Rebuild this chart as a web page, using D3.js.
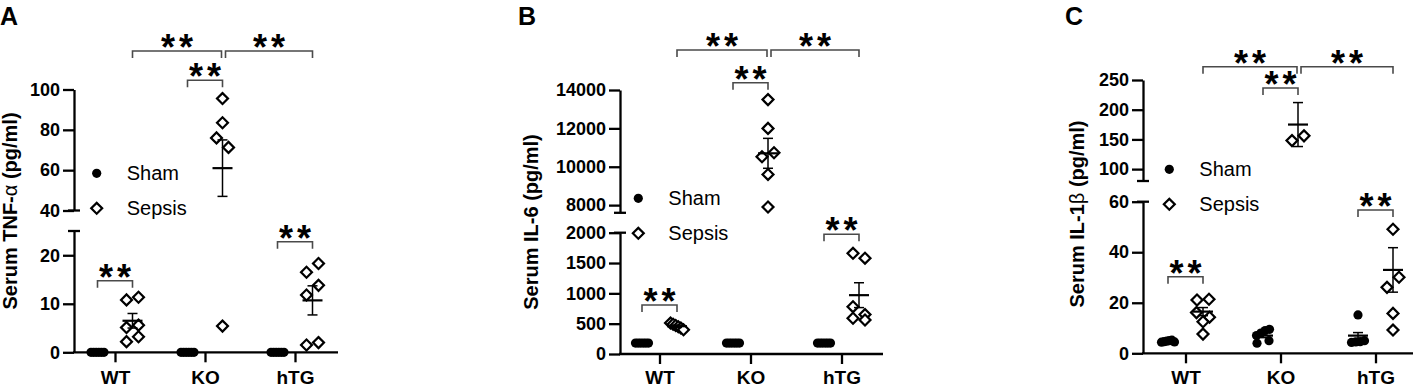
<!DOCTYPE html>
<html lang="en">
<head>
<meta charset="UTF-8">
<title>Serum cytokines in sepsis</title>
<script src="https://d3js.org/d3.v7.min.js"></script>
<style>
  body { margin: 0; background: #fff; }
  svg { font-family: "Liberation Sans", Arial, sans-serif; }
  .axis path, .axis line { stroke: #000; stroke-width: 2.3; }
  .axis text { font-family: "Liberation Sans", Arial, sans-serif; font-size: 18px; font-weight: bold; fill: #000; }
  .xaxis text { font-size: 19px; }
  .panel-label { font-size: 25px; font-weight: bold; }
  .ytitle { font-size: 20px; font-weight: bold; }
  .legend text { font-size: 20px; }
  .bracket { fill: none; stroke: #4a4a4a; stroke-width: 1.6; }
  .stars { font-size: 36px; font-weight: bold; letter-spacing: 4px; }
  .err { stroke: #000; stroke-width: 1.5; }
  .mean { stroke: #000; stroke-width: 2.2; }
</style>
</head>
<body>
<svg width="1418" height="387"></svg>
<script>
const groups = ["WT", "KO", "hTG"];
const seriesNames = ["Sham", "Sepsis"];

// A: TNF-alpha (pg/ml)
const shamA = [[0, 0, 0, 0, 0, 0], [0, 0, 0, 0, 0, 0], [0, 0, 0, 0, 0, 0]];
const sepsisA = [[10.8, 11.35, 5.1, 5.6, 2.2, 3.2], [95.5, 83.5, 76, 71.3, 5.4], [16.5, 18.3, 11.8, 13.8, 1.5, 2.0]];
const shamMeanA = [0, 0, 0], shamSemA = [0, 0, 0];
const sepsisMeanA = [6.5, 61, 10.7], sepsisSemA = [1.5, 14, 3.0];
const upperTicksA = [40, 60, 80, 100], lowerTicksA = [0, 10, 20];

// B: IL-6 (pg/ml)
const shamB = [[180, 180, 180, 180, 180, 180], [180, 180, 180, 180, 180, 180], [180, 180, 180, 180, 180, 180]];
const sepsisB = [[510, 490, 470, 450, 430, 400], [13500, 12000, 10520, 10730, 9600, 7900], [1660, 1580, 780, 650, 590, 560]];
const shamMeanB = [180, 180, 180], shamSemB = [0, 0, 0];
const sepsisMeanB = [458, 10700, 970], sepsisSemB = [20, 780, 205];
const upperTicksB = [8000, 10000, 12000, 14000], lowerTicksB = [0, 500, 1000, 1500, 2000];

// C: IL-1beta (pg/ml)
const shamC = [[4.4, 4.6, 4.8, 5.0, 5.2, 4.5], [4.0, 5.0, 7.0, 8.0, 9.0, 9.5], [15.2, 4.3, 4.5, 4.6, 5.0]];
const sepsisC = [[21.1, 21.4, 16.1, 12.5, 14.3, 7.6], [148, 156], [49.1, 26.1, 30.1, 15.8, 9.2]];
const shamMeanC = [5, 7, 7], shamSemC = [0.3, 0.8, 1.2];
const sepsisMeanC = [16.5, 175, 33], sepsisSemC = [1.6, 37, 8.8];
const upperTicksC = [100, 150, 200, 250], lowerTicksC = [0, 20, 40, 60];

const panels = [
  { label: "A", title: ["Serum TNF-", "\u03b1", " (pg/ml)"],
    data: [shamA, sepsisA], means: [shamMeanA, sepsisMeanA], sems: [shamSemA, sepsisSemA],
    axisX: 74, xRange: [115, 295], xEnd: 338, labelX: 0, titleX: 10, titleY: 211,
    upper: { domain: [40, 100], range: [210.5, 89.5], ticks: upperTicksA },
    lower: { domain: [0, 25], range: [352.3, 231], ticks: lowerTicksA },
    legend: [96.7, 173.3], bracketY: [280.7, 80.3, 241.7], topY: 51 },
  { label: "B", title: ["Serum IL-6 (pg/ml)"],
    data: [shamB, sepsisB], means: [shamMeanB, sepsisMeanB], sems: [shamSemB, sepsisSemB],
    axisX: 620, xRange: [659.5, 841.5], xEnd: 883, labelX: 518, titleX: 531, titleY: 222,
    upper: { domain: [7600, 14000], range: [212.8, 90], ticks: upperTicksB },
    lower: { domain: [0, 2000], range: [354, 232.7], ticks: lowerTicksB },
    legend: [638.3, 198.3], bracketY: [305, 82.7, 234.3], topY: 50 },
  { label: "C", title: ["Serum IL-1", "\u03b2", " (pg/ml)"],
    data: [shamC, sepsisC], means: [shamMeanC, sepsisMeanC], sems: [shamSemC, sepsisSemC],
    axisX: 1143, xRange: [1185.5, 1375.5], xEnd: 1413, labelX: 1065, titleX: 1077, titleY: 214,
    upper: { domain: [80, 250], range: [181, 80], ticks: upperTicksC },
    lower: { domain: [0, 60], range: [353.3, 201.7], ticks: lowerTicksC },
    legend: [1169.3, 169.3], bracketY: [276.7, 88, 210], topY: 66.7 }
];

const svg = d3.select("svg");
const seriesOffset = [-17.5, 17.5];
const diamond = d3.symbol().type(d3.symbolSquare).size(60);
const fmt = d3.format("d");

// rows of points at similar height get spread sideways (like a column scatter)
function swarm(values, yOf, cx) {
  const pts = values.map((v, i) => ({ v, i, y: yOf(v) })).sort((a, b) => a.y - b.y);
  const rows = [];
  pts.forEach(p => {
    const row = rows[rows.length - 1];
    if (row && p.y - row[0].y < 10.5) row.push(p); else rows.push([p]);
  });
  rows.forEach(row => {
    row.sort((a, b) => a.i - b.i);
    const n = row.length;
    const step = n > 1 ? Math.min(12, 13 / (n - 1)) : 0;
    row.forEach((p, k) => p.x = cx + (k - (n - 1) / 2) * step);
  });
  return pts;
}

function drawMarker(sel, s, x, y) {
  if (s === 0) {
    sel.append("circle").attr("cx", x).attr("cy", y).attr("r", 4.6).attr("fill", "#000");
  } else {
    sel.append("path").attr("d", diamond)
      .attr("transform", `translate(${x},${y}) rotate(45)`)
      .attr("fill", "#fff").attr("stroke", "#000").attr("stroke-width", 2.2);
  }
}

// cy = visual centre of the asterisks
function drawStars(g, x, cy) {
  g.append("text").attr("class", "stars")
    .attr("x", x + 2).attr("y", cy + 19)
    .attr("text-anchor", "middle").text("**");
}

panels.forEach(p => {
  const g = svg.append("g");
  const yUp = d3.scaleLinear().domain(p.upper.domain).range(p.upper.range);
  const yLo = d3.scaleLinear().domain(p.lower.domain).range(p.lower.range);
  const y = v => v >= p.upper.domain[0] ? yUp(v) : yLo(v);
  const x = d3.scalePoint().domain(groups).range(p.xRange);
  const bottom = p.lower.range[0];

  // panel letter and y title
  g.append("text").attr("class", "panel-label").attr("x", p.labelX).attr("y", 25).text(p.label);
  const t = g.append("text").attr("class", "ytitle")
    .attr("transform", `translate(${p.titleX},${p.titleY}) rotate(-90)`)
    .attr("text-anchor", "middle").attr("dy", "0.35em");
  p.title.forEach((s, i) => t.append("tspan").text(s)
    .attr("font-weight", i === 1 ? "normal" : null));

  // broken y axis
  g.append("g").attr("class", "axis").attr("transform", `translate(${p.axisX},0)`)
    .call(d3.axisLeft(yUp).tickValues(p.upper.ticks).tickFormat(fmt).tickSize(11).tickSizeOuter(0).tickPadding(3));
  g.append("g").attr("class", "axis").attr("transform", `translate(${p.axisX},0)`)
    .call(d3.axisLeft(yLo).tickValues(p.lower.ticks).tickFormat(fmt).tickSize(11).tickSizeOuter(0).tickPadding(3));
  [p.upper.range[0], p.lower.range[1]].forEach(cy => {
    g.append("line").attr("stroke", "#000").attr("stroke-width", 2.3)
      .attr("x1", p.axisX - 6).attr("x2", p.axisX + 6).attr("y1", cy).attr("y2", cy);
  });

  // x axis
  const xa = g.append("g").attr("class", "axis xaxis").attr("transform", `translate(0,${bottom})`)
    .call(d3.axisBottom(x).tickSize(10).tickSizeOuter(0));
  xa.select(".domain").remove();
  xa.selectAll("text").attr("y", 384 - bottom).attr("dy", 0);
  xa.append("line").attr("x1", p.axisX - 1).attr("x2", p.xEnd).attr("y1", 0).attr("y2", 0);

  // points
  p.data.forEach((series, s) => {
    series.forEach((vals, gi) => {
      const cx = x(groups[gi]) + seriesOffset[s];
      swarm(vals, y, cx).forEach(pt => drawMarker(g, s, pt.x, pt.y));
    });
  });

  // mean +/- SEM
  p.means.forEach((ms, s) => {
    ms.forEach((m, gi) => {
      const cx = x(groups[gi]) + seriesOffset[s];
      const se = p.sems[s][gi];
      if (se > 0) {
        const y1 = y(m + se), y2 = y(m - se);
        g.append("line").attr("class", "err").attr("x1", cx).attr("x2", cx).attr("y1", y1).attr("y2", y2);
        [y1, y2].forEach(cy => g.append("line").attr("class", "err")
          .attr("x1", cx - 5).attr("x2", cx + 5).attr("y1", cy).attr("y2", cy));
      }
      g.append("line").attr("class", "mean")
        .attr("x1", cx - 10).attr("x2", cx + 10).attr("y1", y(m)).attr("y2", y(m));
    });
  });

  // significance brackets
  const bracket = (x1, x2, by) => {
    g.append("path").attr("class", "bracket")
      .attr("d", `M${x1},${by + 7}V${by}H${x2}V${by + 7}`);
    drawStars(g, (x1 + x2) / 2, by - 10);
  };
  groups.forEach((gr, gi) => {
    bracket(x(gr) + seriesOffset[0], x(gr) + seriesOffset[1], p.bracketY[gi]);
  });
  const koS = x("KO") + seriesOffset[1];
  bracket(x("WT") + seriesOffset[1], koS - 1, p.topY);
  bracket(koS + 3, x("hTG") + seriesOffset[1], p.topY);

  // legend
  const lg = g.append("g").attr("class", "legend");
  seriesNames.forEach((name, s) => {
    const ly = p.legend[1] + s * 35;
    drawMarker(lg, s, p.legend[0], ly);
    lg.append("text").attr("x", p.legend[0] + 30).attr("y", ly).attr("dy", "0.35em").text(name);
  });
});
</script>
</body>
</html>
